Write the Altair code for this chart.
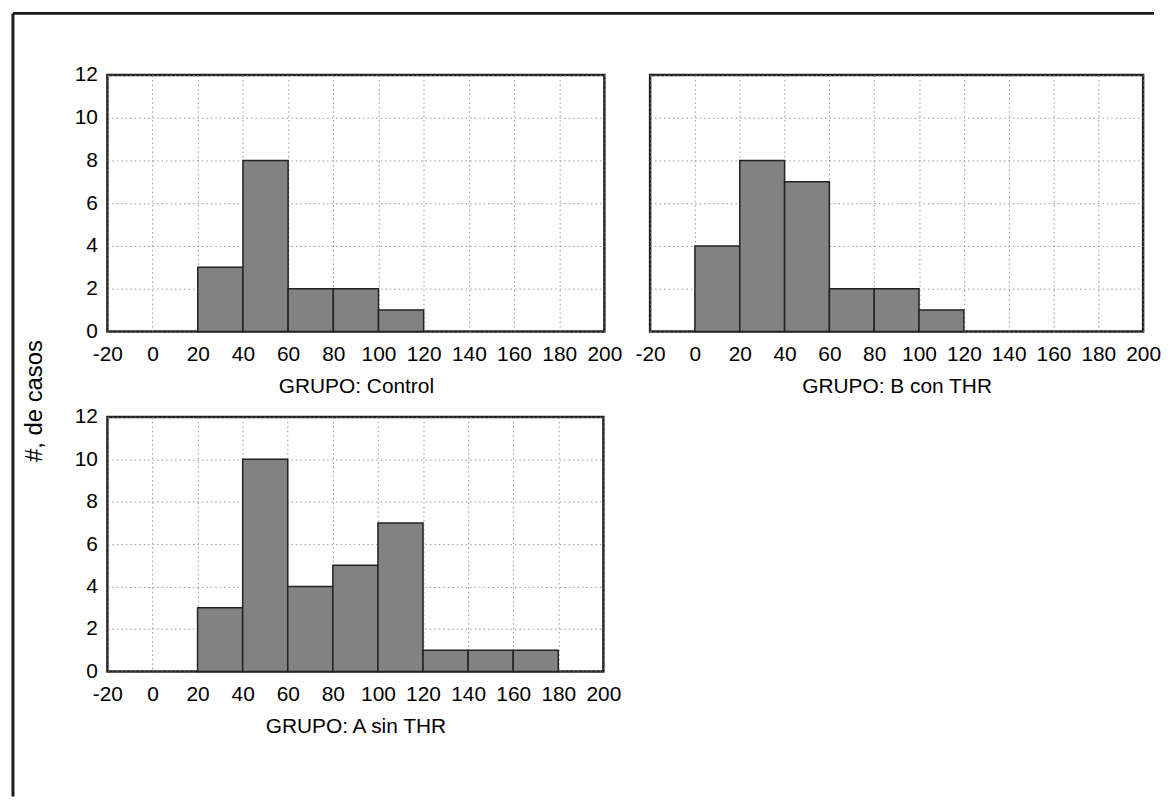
import altair as alt
import pandas as pd

# ---- data ----
bin_start = [-20, 0, 20, 40, 60, 80, 100, 120, 140, 160, 180]
bin_end = [0, 20, 40, 60, 80, 100, 120, 140, 160, 180, 200]
count_control = [0, 0, 3, 8, 2, 2, 1, 0, 0, 0, 0]
count_b_con_thr = [0, 4, 8, 7, 2, 2, 1, 0, 0, 0, 0]
count_a_sin_thr = [0, 0, 3, 10, 4, 5, 7, 1, 1, 1, 0]
x_ticks = [-20, 0, 20, 40, 60, 80, 100, 120, 140, 160, 180, 200]
y_ticks = [0, 2, 4, 6, 8, 10, 12]
group_titles = ["GRUPO: Control", "GRUPO: B con THR", "GRUPO: A sin THR"]
y_title = "#, de casos"

BAR_FILL = "#828282"
BAR_STROKE = "#222222"


def panel(counts, title, w, h, show_y_labels):
    df = pd.DataFrame({"start": bin_start, "end": bin_end, "n": counts})
    df = df[df["n"] > 0].copy()
    df["base"] = 0
    x_axis = alt.Axis(values=x_ticks, title=title, labelFlush=False,
                      labelOverlap=False, labelExpr="'' + datum.value")
    y_axis = alt.Axis(values=y_ticks, title=None, labels=show_y_labels,
                      labelFlush=False, labelOverlap=False)
    return alt.Chart(df).mark_rect(
        fill=BAR_FILL, stroke=BAR_STROKE, strokeWidth=1.5
    ).encode(
        x=alt.X("start:Q", scale=alt.Scale(domain=[-20, 200], nice=False, zero=False),
                axis=x_axis),
        x2="end:Q",
        y=alt.Y("n:Q", scale=alt.Scale(domain=[0, 12], nice=False), axis=y_axis),
        y2="base:Q",
    ).properties(width=w, height=h)


p1_bars = panel(count_control, group_titles[0], 500, 258, True)
p2 = panel(count_b_con_thr, group_titles[1], 496, 258, False)
p3 = panel(count_a_sin_thr, group_titles[2], 499, 256, True)

one = pd.DataFrame({"t": [y_title]})
frame_top = alt.Chart(one).mark_rule(color="#1a1a1a", strokeWidth=3).encode(
    x=alt.value(-95), x2=alt.value(1053), y=alt.value(-62))
frame_left = alt.Chart(one).mark_rule(color="#1a1a1a", strokeWidth=3).encode(
    x=alt.value(-95), y=alt.value(-62), y2=alt.value(726))
ytitle = alt.Chart(one).mark_text(
    angle=270, fontSize=24, color="#000", align="center", baseline="middle"
).encode(text="t:N", x=alt.value(-73), y=alt.value(328))

p1 = alt.layer(p1_bars, frame_top, frame_left, ytitle)

chart = alt.concat(
    p1, p2, p3, columns=2, spacing={"row": 86, "column": 46}, bounds="flush"
).properties(
    padding={"left": 2, "top": 0, "right": 0, "bottom": 0}
).configure(
    font="Liberation Sans"
).configure_axis(
    labelFontSize=21, labelColor="#000", titleFontSize=21, titleFontWeight="normal",
    titleColor="#000", grid=True, gridColor="#7a7a7a", gridDash=[1.5, 3],
    gridOpacity=0.8, domain=False, ticks=False, labelPadding=12
).configure_axisX(
    titlePadding=11
).configure_axisY(
    labelPadding=10
).configure_view(
    stroke="#222", strokeWidth=2.5
)

chart.save("out.html", embed_options={"renderer": "svg", "actions": False})
